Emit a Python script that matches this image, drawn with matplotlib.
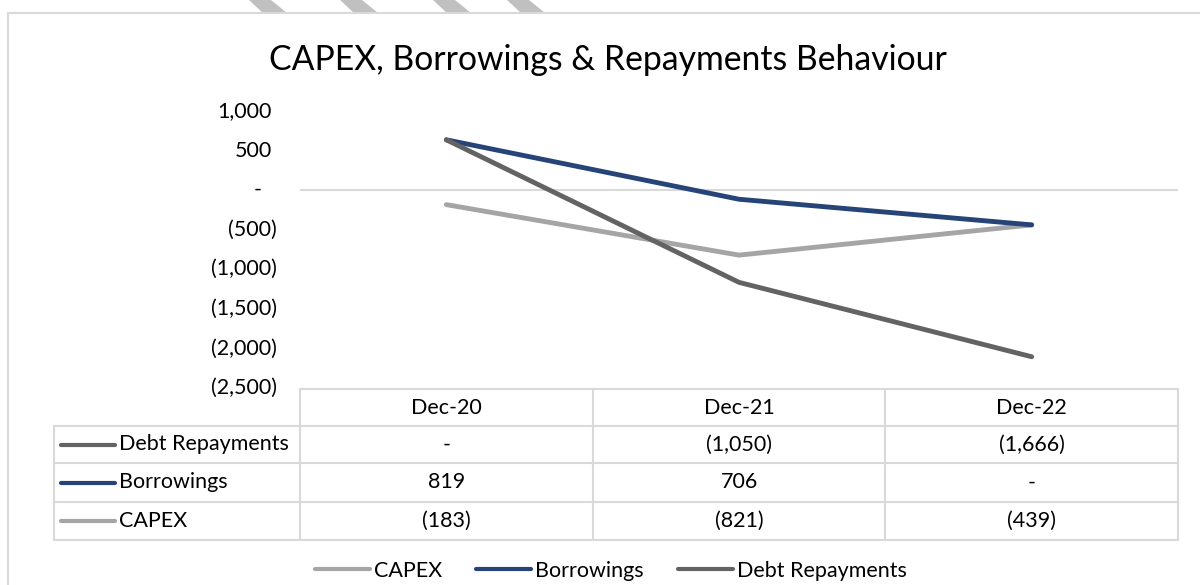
import numpy as np
import matplotlib.pyplot as plt
from matplotlib.lines import Line2D
from matplotlib.patches import Polygon
import matplotlib.transforms as mtransforms

plt.rcParams['font.family'] = ['Lato', 'DejaVu Sans']

# данные
periods = ["Dec-20", "Dec-21", "Dec-22"]
capex = [-183, -821, -439]
borrowings = [819, 706, 0]
debt_repayments = [0, -1050, -1666]

series_names = ["CAPEX", "Borrowings", "Debt Repayments"]
series_colors = ["#a5a5a5", "#264478", "#636363"]
y_ticks = [1000, 500, 0, -500, -1000, -1500, -2000, -2500]

W, H = 1200, 585
FS = 15.5


def fx(px):
    return px / W


def fy(py):
    return 1 - py / H


def fmt(v):
    if v == 0:
        return "-"
    if v < 0:
        return f"({abs(v):,.0f})"
    return f"{v:,.0f}"


fig = plt.figure(figsize=(12, 5.85), dpi=100)

# водяной знак сверху
for x0 in [249, 340, 433, 507]:
    fig.add_artist(Polygon([(fx(x0), fy(0)), (fx(x0 + 22), fy(0)),
                            (fx(x0 + 38), fy(13)), (fx(x0 + 14), fy(13))],
                           closed=True, transform=fig.transFigure,
                           color="#c0c0c0", lw=0))

# рамка
fig.add_artist(Line2D([fx(8), fx(8), fx(1200)], [fy(585), fy(13), fy(13)],
                      transform=fig.transFigure, color="#d9d9d9", lw=1.5))

fig.text(fx(608), fy(60), "CAPEX, Borrowings & Repayments Behaviour",
         ha="center", va="center", fontsize=24.3, color="#000000")

ax_left, ax_right, ax_top, ax_bot = 300, 1178, 111, 388
ax = fig.add_axes([fx(ax_left), fy(ax_bot), fx(ax_right - ax_left),
                   (ax_bot - ax_top) / H])

x = np.arange(len(periods))
stacked = np.cumsum(np.array([capex, borrowings, debt_repayments]), axis=0)
for vals, name, col in zip(stacked, series_names, series_colors):
    ax.plot(x, vals, color=col, lw=3.5, solid_capstyle="round",
            solid_joinstyle="round", label=name)

ax.set_xlim(-0.5, len(periods) - 0.5)
ax.set_ylim(y_ticks[-1], y_ticks[0])
ax.axhline(0, color="#d9d9d9", lw=1.5, zorder=0)
for s in ax.spines.values():
    s.set_visible(False)
ax.set_xticks([])
ax.set_yticks([])

# подписи оси y в стиле Excel
ytr = ax.get_yaxis_transform()
for v in y_ticks:
    if v == 0:
        off, ha = -42, "center"
    elif v < 0:
        off, ha = -23, "right"
    else:
        off, ha = -28, "right"
    tr = ytr + mtransforms.ScaledTranslation(off / 100, 0, fig.dpi_scale_trans)
    ax.text(0, v, fmt(v), transform=tr, ha=ha, va="center", fontsize=FS)

# таблица данных
tab_left = 54
row_edges = [389, 426, 463, 502, 540]
col_w = (ax_right - ax_left) / len(periods)
tax = fig.add_axes([fx(tab_left), fy(row_edges[-1]), fx(ax_right - tab_left),
                    (row_edges[-1] - row_edges[0]) / H])
tax.set_xlim(-0.5 - (ax_left - tab_left) / col_w, len(periods) - 0.5)
tax.set_ylim(row_edges[-1], row_edges[0])
tax.axis("off")
gc = "#d9d9d9"
xl = tax.get_xlim()[0]
xr = len(periods) - 0.5
# горизонтальные линии
tax.plot([-0.5, xr], [row_edges[0]] * 2, color=gc, lw=1.5, clip_on=False)
for yy in row_edges[1:]:
    tax.plot([xl, xr], [yy, yy], color=gc, lw=1.5, clip_on=False)
# вертикальные линии
tax.plot([xl, xl], [row_edges[1], row_edges[-1]], color=gc, lw=1.5, clip_on=False)
for k in range(len(periods) + 1):
    tax.plot([k - 0.5] * 2, [row_edges[0], row_edges[-1]], color=gc, lw=1.5,
             clip_on=False)

hy = (row_edges[0] + row_edges[1]) / 2
for k, p in enumerate(periods):
    tax.text(k, hy, p, ha="center", va="center", fontsize=FS)

rows = [("Debt Repayments", debt_repayments, series_colors[2]),
        ("Borrowings", borrowings, series_colors[1]),
        ("CAPEX", capex, series_colors[0])]
key_x0 = xl + (61 - tab_left) / col_w
key_x1 = xl + (115 - tab_left) / col_w
txt_x = xl + (119 - tab_left) / col_w
for i, (name, vals, col) in enumerate(rows):
    yc = (row_edges[i + 1] + row_edges[i + 2]) / 2
    tax.plot([key_x0, key_x1], [yc, yc], color=col, lw=3, solid_capstyle="round")
    tax.text(txt_x, yc, name, ha="left", va="center", fontsize=FS)
    for k, v in enumerate(vals):
        tax.text(k, yc, fmt(v), ha="center", va="center", fontsize=FS)

# легенда снизу (чуть выше, чтобы не обрезалась)
handles = [Line2D([], [], color=c, lw=3, solid_capstyle="round")
           for c in series_colors]
fig.legend(handles, series_names, loc="center", bbox_to_anchor=(fx(611), fy(571)),
           ncol=3, frameon=False, fontsize=FS, handlelength=2.55,
           handletextpad=0.19, columnspacing=1.58, borderpad=0.1)

fig.savefig("out.png", dpi=100)
